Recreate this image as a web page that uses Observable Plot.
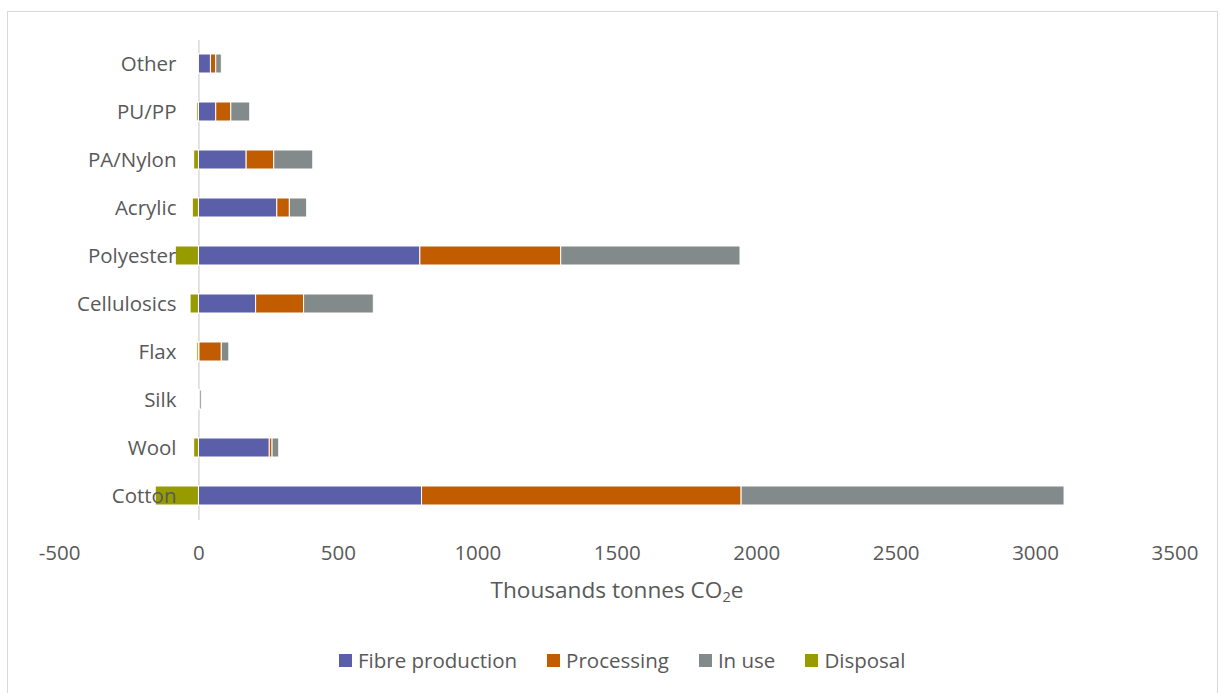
<!DOCTYPE html>
<html>
<head>
<meta charset="utf-8">
<script src="https://cdn.jsdelivr.net/npm/d3@7"></script>
<script src="https://cdn.jsdelivr.net/npm/@observablehq/plot@0.6"></script>
<style>
  body { margin: 0; background: #fff; font-family: "Open Sans", sans-serif; color: #595959; }
  #frame { position: absolute; left: 7px; top: 11px; width: 1211px; height: 700px; border: 1px solid #d9d9d9; box-sizing: border-box; }
  #chart { position: absolute; left: 0; top: 0; }
  #xtitle { position: absolute; left: 59px; width: 1116px; top: 574px; text-align: center; font-size: 22.6px; line-height: 31px; color: #595959; }
  #xtitle sub { font-size: 0.65em; vertical-align: -0.3em; line-height: 0; }
  #legend { position: absolute; left: 339px; top: 646px; display: flex; align-items: center; font-size: 20.5px; line-height: 28px; color: #595959; }
  .item { display: flex; align-items: center; margin-right: 30px; }
  .sw { width: 13px; height: 13px; margin-right: 6px; }
</style>
</head>
<body>
<div id="frame"></div>
<div id="chart"></div>
<div id="xtitle">Thousands tonnes CO<sub>2</sub>e</div>
<div id="legend"></div>
<script>
// Data (thousands tonnes CO2e)
const categories = ["Cotton", "Wool", "Silk", "Flax", "Cellulosics", "Polyester", "Acrylic", "PA/Nylon", "PU/PP", "Other"];
const fibreProduction = [800, 254, 2, 2, 205, 794, 281, 171, 62, 43];
const processing = [1146, 10, 1, 80, 172, 505, 45, 99, 54, 19];
const inUse = [1158, 24, 7, 27, 250, 643, 62, 140, 68, 20];
const disposal = [-155, -17, -1, -6, -30, -83, -22, -17, -6, -2];
const seriesNames = ["Fibre production", "Processing", "In use", "Disposal"];
const seriesColors = ["#5b5fa9", "#c15c00", "#838a8a", "#989b00"];
const xTicks = [-500, 0, 500, 1000, 1500, 2000, 2500, 3000, 3500];

const seriesValues = [fibreProduction, processing, inUse, disposal];
const rows = [];
seriesNames.forEach((s, si) => {
  categories.forEach((c, ci) => rows.push({category: c, series: s, value: seriesValues[si][ci]}));
});

const chart = Plot.plot({
  width: 1220,
  height: 615,
  marginLeft: 59,
  marginRight: 45.5,
  marginTop: 40,
  marginBottom: 95,
  style: {fontFamily: "Open Sans, sans-serif", fontSize: "20.5px", color: "#595959", background: "transparent"},
  x: {domain: [-500, 3500]},
  y: {domain: categories.slice().reverse(), paddingInner: 0.6, paddingOuter: 0.3},
  color: {domain: seriesNames, range: seriesColors},
  marks: [
    Plot.ruleX([0], {stroke: "#d9d9d9", strokeWidth: 1.5}),
    Plot.barX(rows, {x: "value", y: "category", fill: "series", stroke: "white", strokeWidth: 1, order: seriesNames}),
    Plot.axisX({ticks: xTicks, tickSize: 0, tickPadding: 24.7, tickFormat: d => String(d), label: null, fill: "#595959", fontSize: "20.5px"}),
    Plot.axisY({ticks: [], label: null, tickSize: 0}),
    Plot.text(categories, {y: d => d, frameAnchor: "left", textAnchor: "end", dx: 117, fill: "#595959", fontSize: 20.5})
  ]
});
document.getElementById("chart").appendChild(chart);

const legend = document.getElementById("legend");
seriesNames.forEach((s, i) => {
  const item = document.createElement("div");
  item.className = "item";
  const sw = document.createElement("span");
  sw.className = "sw";
  sw.style.background = seriesColors[i];
  const t = document.createElement("span");
  t.textContent = s;
  item.appendChild(sw);
  item.appendChild(t);
  legend.appendChild(item);
});
</script>
</body>
</html>
